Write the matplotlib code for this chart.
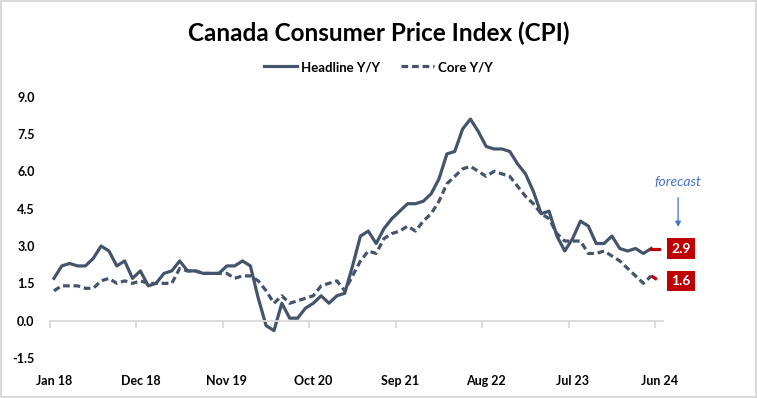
import matplotlib
matplotlib.use("Agg")
import matplotlib.pyplot as plt
import matplotlib.transforms as mtransforms
from matplotlib.lines import Line2D
from matplotlib.text import OffsetFrom
import numpy as np
import pandas as pd

plt.rcParams["font.family"] = ["Lato", "DejaVu Sans"]

# monthly y/y rates, Jan 2018 .. Jun 2024 (last point is the forecast)
MONTHS = pd.date_range("2018-01-01", "2024-06-01", freq="MS")
HEADLINE = [
    1.7, 2.2, 2.3, 2.2, 2.2, 2.5, 3.0, 2.8, 2.2, 2.4, 1.7, 2.0,
    1.4, 1.5, 1.9, 2.0, 2.4, 2.0, 2.0, 1.9, 1.9, 1.9, 2.2, 2.2,
    2.4, 2.2, 0.9, -0.2, -0.4, 0.7, 0.1, 0.1, 0.5, 0.7, 1.0, 0.7,
    1.0, 1.1, 2.2, 3.4, 3.6, 3.1, 3.7, 4.1, 4.4, 4.7, 4.7, 4.8,
    5.1, 5.7, 6.7, 6.8, 7.7, 8.1, 7.6, 7.0, 6.9, 6.9, 6.8, 6.3,
    5.9, 5.2, 4.3, 4.4, 3.4, 2.8, 3.3, 4.0, 3.8, 3.1, 3.1, 3.4,
    2.9, 2.8, 2.9, 2.7, 2.9, 2.9,
]
CORE = [
    1.2, 1.4, 1.4, 1.4, 1.3, 1.3, 1.6, 1.7, 1.5, 1.6, 1.5, 1.6,
    1.5, 1.5, 1.5, 1.5, 2.1, 2.0, 2.0, 1.9, 1.9, 1.9, 1.9, 1.7,
    1.8, 1.8, 1.6, 1.2, 0.7, 1.0, 0.7, 0.8, 0.9, 1.0, 1.4, 1.5,
    1.6, 1.2, 1.8, 2.4, 2.8, 2.7, 3.3, 3.5, 3.6, 3.8, 3.6, 4.0,
    4.3, 4.8, 5.5, 5.8, 6.1, 6.2, 6.0, 5.8, 6.0, 5.9, 5.8, 5.4,
    5.0, 4.7, 4.3, 4.1, 3.5, 3.2, 3.2, 3.2, 2.7, 2.7, 2.8, 2.6,
    2.4, 2.1, 1.8, 1.5, 1.8, 1.6,
]
TICK_EVERY = 11
Y_TICKS = [-1.5, 0.0, 1.5, 3.0, 4.5, 6.0, 7.5, 9.0]

LINE = "#44546A"
RED = "#C00000"
BLUE = "#4472C4"
GREY = "#D9D9D9"
DASH = (2.1, 1.2)

fig = plt.figure(figsize=(7.57, 3.98), dpi=100)
fig.patch.set_edgecolor(GREY)
fig.patch.set_linewidth(1.5)
ax = fig.add_axes([50 / 757, 1 - 358 / 398, 613 / 757, 261.3 / 398])

x = np.arange(len(MONTHS))
ax.plot(x[:-1], HEADLINE[:-1], color=LINE, lw=2.3)
ax.plot(x[:-1], CORE[:-1], color=LINE, lw=2.3, dashes=DASH)
# forecast segment in red
ax.plot(x[-2:], HEADLINE[-2:], color=RED, lw=2.3, zorder=3)
ax.plot(x[-2:], CORE[-2:], color=RED, lw=2.3, dashes=DASH, zorder=3)

ax.set_xlim(-0.5, len(x) - 0.5)
ax.set_ylim(Y_TICKS[0], Y_TICKS[-1])
ax.set_yticks(Y_TICKS)
ax.set_yticklabels([f"{v:.1f}" for v in Y_TICKS], fontsize=9, fontweight="bold")
ax.tick_params(axis="y", length=0, pad=11)

for side in ["top", "right", "left"]:
    ax.spines[side].set_visible(False)
ax.spines["bottom"].set_position(("data", 0))
ax.spines["bottom"].set_color(GREY)
ax.spines["bottom"].set_linewidth(1.3)

# tick marks sit between categories, labels on the category
label_idx = x[::TICK_EVERY]
ax.set_xticks(label_idx - 0.5)
ax.set_xticklabels([])
ax.tick_params(axis="x", length=5, width=1.3, color=GREY)
trans = mtransforms.blended_transform_factory(ax.transData, ax.transAxes)
for i in label_idx:
    ax.text(i, -0.088, MONTHS[i].strftime("%b %y"), transform=trans,
            ha="center", va="center", fontsize=9, fontweight="bold")

# value boxes for the forecast point
for series in (HEADLINE, CORE):
    ax.annotate(f"{series[-1]:.1f}", xy=(x[-1], series[-1]), xytext=(15.7, 0),
                textcoords="offset points", ha="center", va="center",
                color="white", fontsize=10, fontweight="bold",
                bbox=dict(boxstyle="square,pad=0.3", fc=RED, ec="none"),
                annotation_clip=False)

ref = OffsetFrom(ax.transData, (x[-1], HEADLINE[-1]))
ax.annotate("forecast", xy=(13.7, 15.5), xycoords=ref, xytext=(13.7, 47.9),
            textcoords=ref, ha="center", va="center", color=BLUE,
            fontsize=10, fontstyle="italic", annotation_clip=False,
            arrowprops=dict(arrowstyle="-|>", color=BLUE, lw=0.9,
                            mutation_scale=8, shrinkA=5, shrinkB=0))

fig.text(0.5, 1 - 33 / 398, "Canada Consumer Price Index (CPI)",
         ha="center", va="center", fontsize=17.5, fontweight="bold")
handles = [
    Line2D([], [], color=LINE, lw=2.3),
    Line2D([], [], color=LINE, lw=2.3, dashes=DASH),
]
fig.legend(handles, ["Headline Y/Y", "Core Y/Y"], loc="center",
           bbox_to_anchor=(0.5, 1 - 67 / 398), ncol=2, frameon=False,
           prop=dict(size=9.5, weight="bold"), handlelength=2.5,
           handletextpad=0.3, columnspacing=1.6)

fig.savefig("out.png", dpi=100, edgecolor=fig.get_edgecolor())
